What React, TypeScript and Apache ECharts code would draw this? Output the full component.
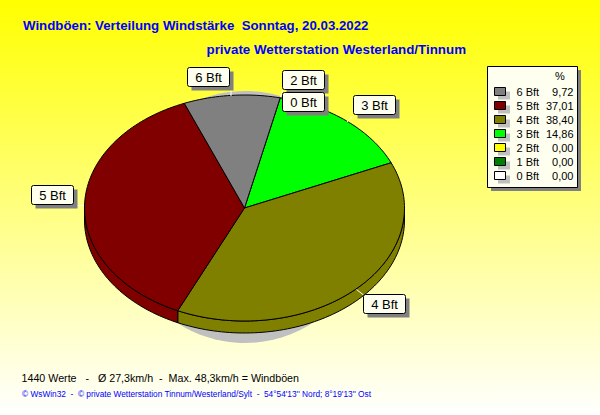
import React, { useEffect, useRef } from "react";
import * as echarts from "echarts";

const categories = ["0 Bft", "1 Bft", "2 Bft", "3 Bft", "4 Bft", "5 Bft", "6 Bft"];
const percentages = [0, 0, 0, 14.86, 38.4, 37.01, 9.72];
const legendOrder = [6, 5, 4, 3, 2, 1, 0];
const sliceColors = ["#ffffff", "#008000", "#ffff00", "#00ff00", "#808000", "#800000", "#808080"];

const titleMain = "Windböen: Verteilung Windstärke  Sonntag, 20.03.2022";
const titleStation = "private Wetterstation Westerland/Tinnum";
const footerStats = "1440 Werte   -   Ø 27,3km/h  -  Max. 48,3km/h = Windböen";
const footerCopyright = "© WsWin32  -  © private Wetterstation Tinnum/Westerland/Sylt  -  54°54'13'' Nord; 8°19'13'' Ost";

const CX = 244.5, CY = 208, RX = 160, RY = 113, DEPTH = 12, START = 12.9;
const FONT = "'Liberation Sans', Arial, sans-serif";

// label box positions by category index
const labelBoxes: Record<number, [number, number]> = {
  0: [282.5, 92.5],
  2: [282.5, 70.5],
  3: [353.5, 95.5],
  4: [363.5, 294.5],
  5: [31.5, 185.5],
  6: [187.5, 67.5],
};
const leaders: [number, number, number, number][] = [
  [231, 87, 231, 96],
  [74, 205.5, 84, 205.5],
  [356.5, 289.5, 363.5, 295],
  [353, 116, 347, 122],
  [283, 90, 280.5, 97],
];

function pt(deg: number, dy = 0): number[] {
  const a = (deg * Math.PI) / 180;
  return [CX + RX * Math.sin(a), CY - RY * Math.cos(a) + dy];
}
function arc(from: number, to: number, dy = 0): number[][] {
  const out: number[][] = [];
  const n = Math.max(1, Math.ceil(Math.abs(to - from) / 1.5));
  for (let i = 0; i <= n; i++) out.push(pt(from + ((to - from) * i) / n, dy));
  return out;
}

function renderSlice(params: any, api: any) {
  const i = params.dataIndex;
  const value = api.value(0);
  const total = percentages.reduce((s, v) => s + v, 0);
  if (!value) return { type: "group", children: [] };
  const before = percentages.slice(0, i).reduce((s, v) => s + v, 0);
  const a0 = START + (before / total) * 360;
  const a1 = a0 + (value / total) * 360;
  const style = { fill: sliceColors[i], stroke: "#000", lineWidth: 1, lineJoin: "round" };
  const children: any[] = [];
  const s0 = Math.max(a0, 90), s1 = Math.min(a1, 270);
  if (s1 > s0) {
    children.push({
      type: "polygon", z2: 1,
      shape: { points: [...arc(s0, s1), ...arc(s1, s0, DEPTH)] },
      style,
    });
  }
  children.push({
    type: "polygon", z2: 2,
    shape: { points: [[CX, CY], ...arc(a0, a1)] },
    style,
  });
  return { type: "group", children };
}

function makeGraphics(): any[] {
  const g: any[] = [];
  const text = (x: number, y: number, t: string, size: number, fill: string, extra: any = {}, z = 20) =>
    g.push({
      type: "text", x, y, z, silent: true,
      style: { text: t, fontSize: size, fill, fontFamily: FONT, verticalAlign: "middle", align: "left", ...extra },
    });
  text(23, 25, titleMain, 13.27, "#0000ff", { fontWeight: "bold" });
  text(206.5, 49.5, titleStation, 13.35, "#0000ff", { fontWeight: "bold" });
  text(21.5, 377.5, footerStats, 10.7, "#000000");
  text(22, 394, footerCopyright, 8.3, "#0000ff");

  // pie's drop shadow
  g.push({
    type: "ellipse", z: 1, silent: true,
    shape: { cx: 245, cy: 217, rx: 125, ry: 126 },
    style: { fill: "#c0c0c0" },
  });

  leaders.forEach(([x1, y1, x2, y2]) =>
    g.push({ type: "line", z: 10, silent: true, shape: { x1, y1, x2, y2 }, style: { stroke: "#ffffff", lineWidth: 1 } })
  );

  Object.keys(labelBoxes).forEach((key) => {
    const idx = Number(key);
    const [x, y] = labelBoxes[idx];
    g.push({ type: "rect", z: 11, silent: true, shape: { x: x + 4, y: y + 4, width: 42, height: 19 }, style: { fill: "#808080" } });
    g.push({ type: "rect", z: 12, silent: true, shape: { x, y, width: 42, height: 19, r: 2 }, style: { fill: "#fffff0", stroke: "#000", lineWidth: 1 } });
    text(x + 21, y + 10, categories[idx], 13, "#000000", { align: "center" });
  });

  // legend panel
  g.push({ type: "rect", z: 11, silent: true, shape: { x: 491, y: 70, width: 90, height: 121 }, style: { fill: "#808080" } });
  g.push({ type: "rect", z: 12, silent: true, shape: { x: 487.5, y: 66.5, width: 90, height: 121 }, style: { fill: "#fffff0", stroke: "#000", lineWidth: 1 } });
  text(560, 76, "%", 11, "#000000", { align: "center" });
  legendOrder.forEach((idx, row) => {
    const y = 92.3 + row * 13.97;
    g.push({ type: "rect", z: 13, silent: true, shape: { x: 498, y: Math.round(y) - 0.5, width: 12, height: 8 }, style: { fill: "#c0c0c0" } });
    g.push({ type: "rect", z: 14, silent: true, shape: { x: 494.5, y: Math.round(y) - 4.5, width: 11, height: 8 }, style: { fill: sliceColors[idx], stroke: "#000", lineWidth: 1 } });
    text(516.5, y, categories[idx], 11, "#000000");
    text(573.5, y, percentages[idx].toFixed(2).replace(".", ","), 11, "#000000", { align: "right" });
  });
  return g;
}

export default function App() {
  const ref = useRef<HTMLDivElement>(null);
  useEffect(() => {
    document.body.style.margin = "0";
    const chart = echarts.init(ref.current!, null, { renderer: "svg" });
    chart.setOption({
      animation: false,
      backgroundColor: {
        type: "linear", x: 0, y: 0, x2: 0, y2: 1,
        colorStops: [{ offset: 0, color: "#ffff00" }, { offset: 1, color: "#ffffff" }],
      },
      graphic: makeGraphics(),
      series: [{
        type: "custom",
        coordinateSystem: "none",
        silent: true,
        z: 5,
        renderItem: renderSlice,
        data: percentages.map((v) => [v]),
        encode: { value: 0 },
      }],
    });
    return () => chart.dispose();
  }, []);
  return <div ref={ref} style={{ width: 600, height: 415 }} />;
}
